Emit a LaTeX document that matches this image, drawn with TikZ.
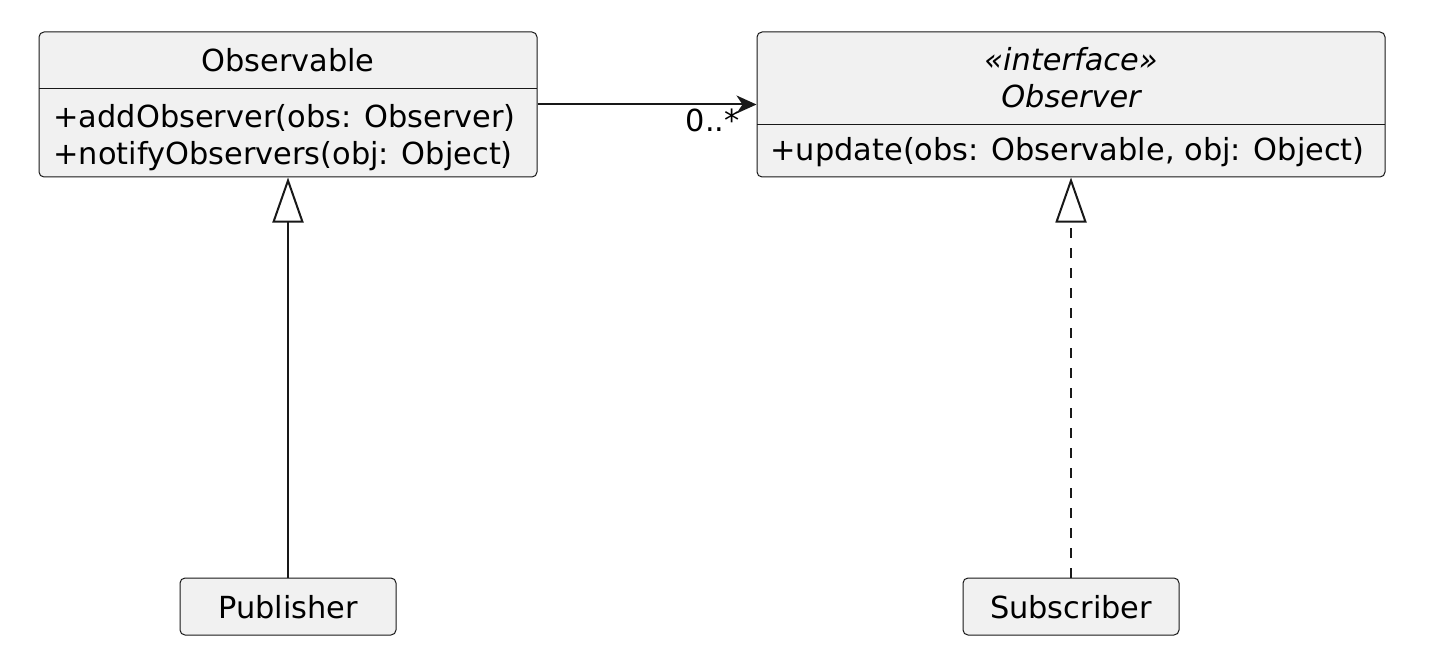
\documentclass[tikz,border=0pt]{standalone}
\usepackage{fontspec}
\setmainfont{DejaVu Sans}
\usetikzlibrary{arrows.meta}
\definecolor{boxfill}{HTML}{F1F1F1}
\definecolor{boxline}{HTML}{181818}
\begin{document}
\begin{tikzpicture}[x=0.5pt, y=-0.5pt,
    classbox/.style={draw=boxline, fill=boxfill, line width=0.5pt, rounded corners=2.5pt, inner sep=0pt},
    txt/.style={inner sep=0pt, text=black, font=\fontsize{15.2}{18.5}\selectfont},
    link/.style={draw=boxline, line width=1pt},
    inherit/.style={-{Triangle[open, length=22.5pt, width=15.5pt]}}]
  \useasboundingbox (0,0) rectangle (1454,668);
  % Class boxes
  \node[classbox, minimum width=249pt, minimum height=72.5pt] (observable) at (288,104.5) {};
  \node[classbox, minimum width=314pt, minimum height=72.5pt] (observer) at (1071,104.5) {};
  \node[classbox, minimum width=108pt, minimum height=28.5pt] (publisher) at (288,606.5) {};
  \node[classbox, minimum width=108pt, minimum height=28.5pt] (subscriber) at (1071,606.5) {};
  % Compartment separators
  \draw[boxline, line width=0.5pt] (39,89) -- (537,89);
  \draw[boxline, line width=0.5pt] (757,125) -- (1385,125);
  % Texts
  \node[txt, anchor=base] (observableName) at (288,72) {Observable};
  \node[txt, anchor=base west] (addObs) at (53,128) {+addObserver(obs: Observer)};
  \node[txt, anchor=base west] (notifyObs) at (53,165) {+notifyObservers(obj: Object)};
  \node[txt, anchor=base] (stereo) at (1071,71) {\itshape «interface»};
  \node[txt, anchor=base] (observerName) at (1071,108) {\itshape Observer};
  \node[txt, anchor=base west] (update) at (770,161) {+update(obs: Observable, obj: Object)};
  \node[txt, anchor=base] (publisherName) at (288,618) {Publisher};
  \node[txt, anchor=base] (subscriberName) at (1071,618) {Subscriber};
  % Association with multiplicity
  \draw[link, -{Stealth[length=10pt, width=9pt, inset=3pt]}] (observable) -- (observer);
  \node[txt, anchor=base east] (mult) at (740,132) {0..*};
  % Generalization and realization
  \draw[link, inherit] (publisher) -- (observable);
  \draw[link, inherit, dash pattern=on 5pt off 5pt] (subscriber) -- (observer);
\end{tikzpicture}
\end{document}
